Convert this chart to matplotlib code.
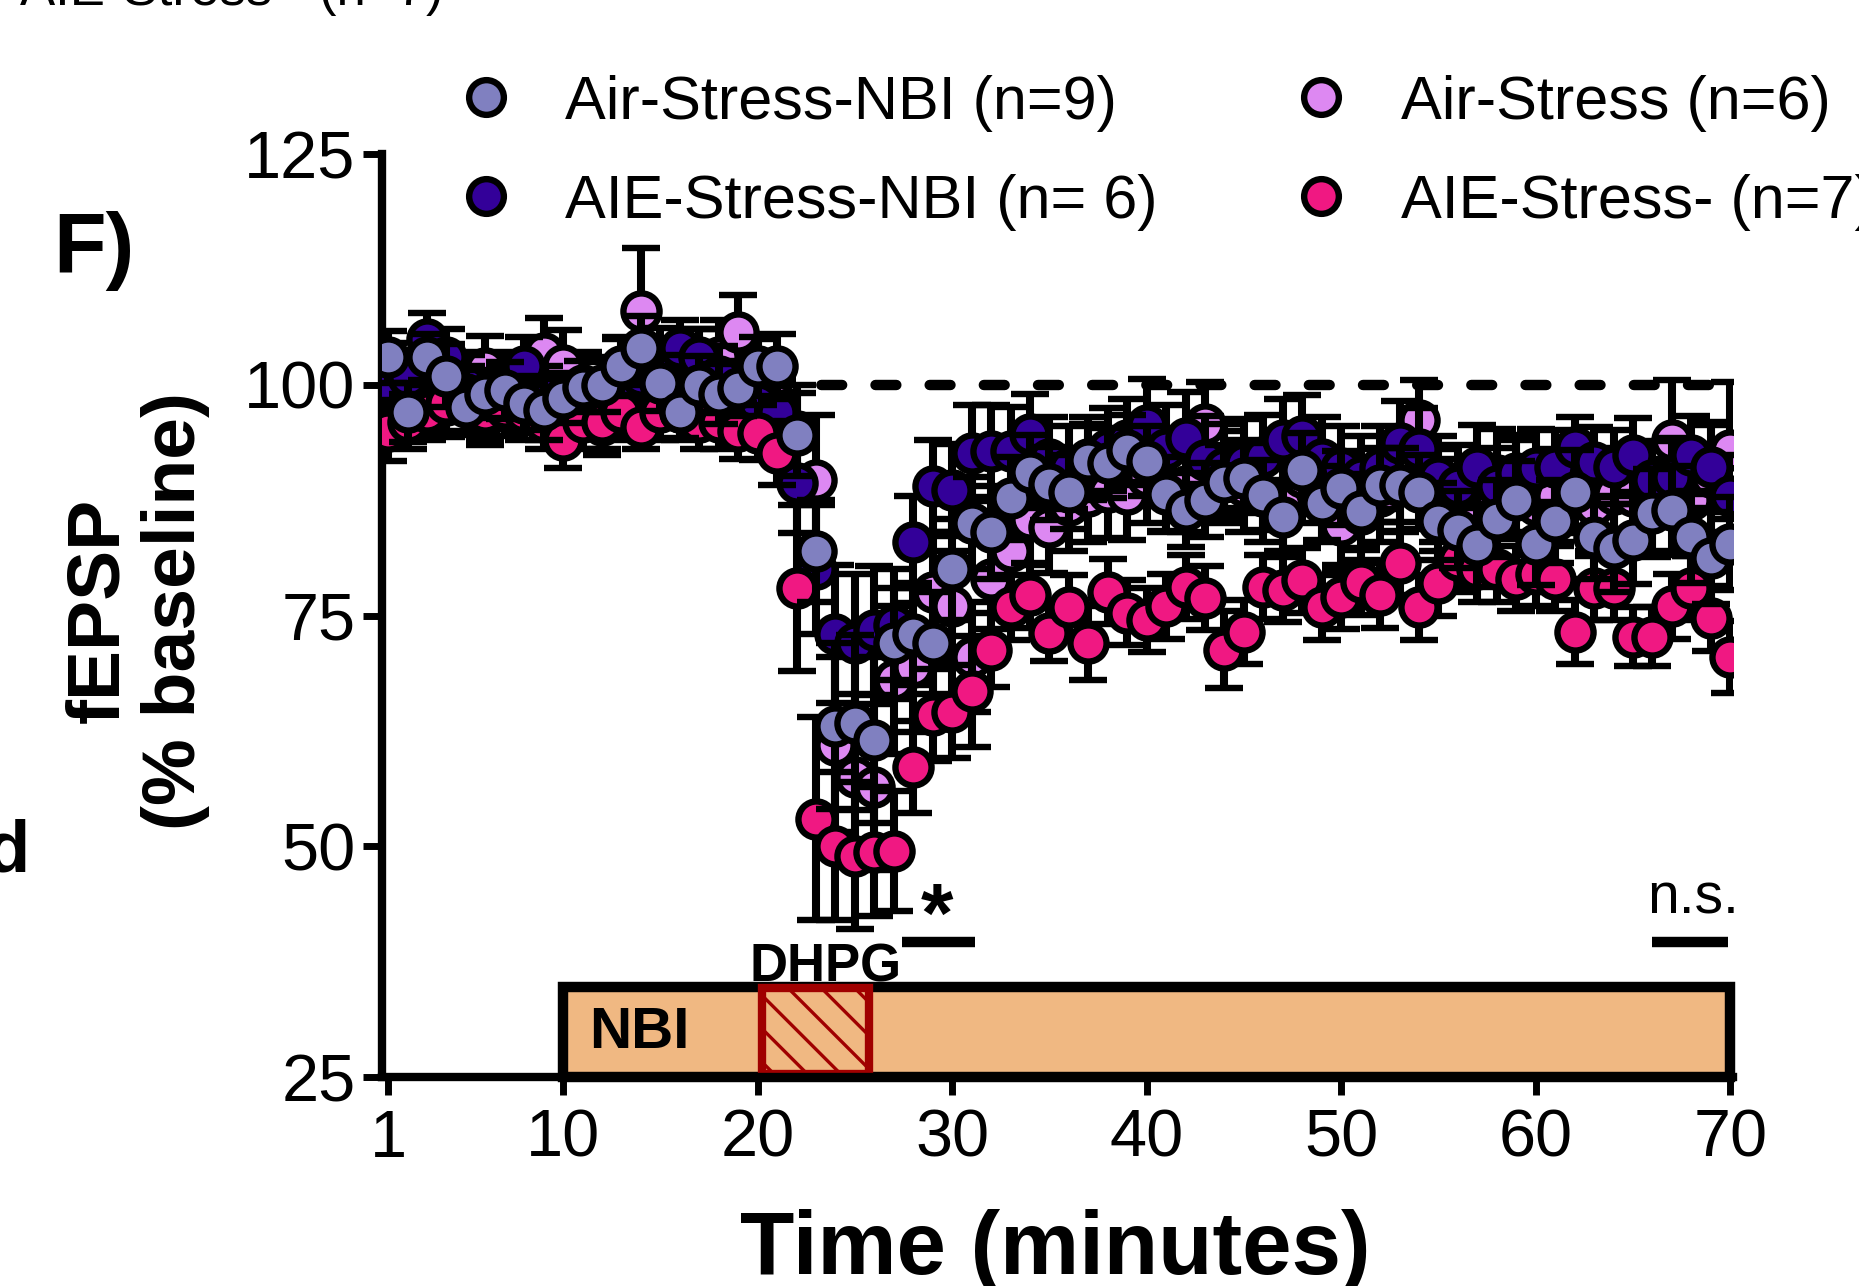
import numpy as np
import matplotlib
matplotlib.use('Agg')
import matplotlib.pyplot as plt
from matplotlib.patches import Rectangle
from matplotlib.lines import Line2D

plt.rcParams['font.family'] = ['Liberation Sans', 'DejaVu Sans']
plt.rcParams['hatch.linewidth'] = 2.4

# time points (one sweep per minute)
minutes = np.arange(1, 71)

# Air-Stress-NBI (n=9)
air_nbi = [103, 97, 103, 101, 97.6, 99, 99.4, 98, 97.3, 98.6,
           99.8, 100, 102, 104, 100.2, 97, 100, 99, 99.6, 102,
           102, 94.6, 82, 63, 63.4, 61.5, 72, 73, 72, 80,
           85, 84, 87.7, 90.6, 89.3, 88.4, 91.8, 91.5, 92.9, 91.7,
           88.2, 86.4, 87.5, 89.5, 89.9, 88.1, 85.7, 90.8, 87.2, 88.8,
           86.3, 89.1, 89.1, 88.4, 85.2, 84.3, 82.6, 85.5, 87.5, 82.8,
           85.2, 88.4, 83.5, 82.3, 83.2, 86.1, 86.4, 83.5, 81.2, 82.8]
air_nbi_sem = [2.8, 3.2, 2.5, 3.4, 3.0, 2.6, 3.1, 2.9, 3.3, 2.7,
               2.8, 3.0, 3.2, 3.5, 3.0, 2.8, 3.1, 3.3, 3.0, 3.2,
               3.5, 4.5, 5.5, 9.0, 9.5, 9.0, 6.0, 5.5, 5.5, 5.5,
               5.0, 5.0, 4.5, 4.0, 4.0, 4.0, 4.0, 3.8, 3.8, 3.8,
               4.0, 4.0, 4.0, 4.0, 3.8, 3.8, 4.0, 4.0, 4.0, 4.0,
               4.0, 4.0, 4.0, 4.0, 4.2, 4.2, 4.5, 4.2, 4.2, 4.5,
               4.5, 4.5, 4.5, 4.8, 4.8, 4.8, 4.8, 5.0, 5.0, 5.0]

# AIE-Stress-NBI (n=6)
aie_nbi = [100, 100.8, 105, 103, 100, 96.5, 99, 102, 99, 97,
           98, 95.6, 99, 101, 103, 104, 103, 101, 99, 98,
           97, 89.4, 80, 73, 72, 73.4, 74, 83, 89, 88.6,
           92.6, 92.8, 92.8, 94.7, 92, 91, 92, 93, 94, 95.6,
           93, 94.2, 91.8, 91, 91.5, 92.2, 94, 94.4, 92, 91,
           90, 91, 93.7, 93, 90, 89, 91.1, 89, 90.4, 91,
           91.1, 93.3, 91.6, 91.1, 92.4, 89.7, 90, 92.4, 91.1, 87.9]
aie_nbi_sem = [3.5, 3.0, 2.8, 3.0, 3.2, 3.0, 3.0, 3.2, 3.0, 3.0,
               3.0, 3.2, 3.0, 3.0, 3.2, 3.0, 3.0, 3.2, 3.4, 3.5,
               3.5, 5.5, 7.0, 7.5, 7.5, 7.0, 6.0, 5.0, 5.0, 5.0,
               5.2, 5.0, 4.8, 4.3, 4.5, 4.5, 4.5, 4.5, 4.5, 5.0,
               4.8, 5.0, 4.8, 4.8, 4.8, 4.5, 4.5, 4.5, 4.5, 4.5,
               4.5, 4.5, 4.5, 4.5, 4.5, 4.5, 4.5, 4.2, 4.2, 4.2,
               4.0, 3.2, 3.8, 4.0, 4.0, 4.2, 4.2, 4.2, 4.5, 4.5]

# Air-Stress (n=6)
air = [101, 99, 100, 97.8, 100, 101.8, 100, 99, 103.4, 102.1,
       100, 99, 101, 108, 101, 100, 102, 103, 105.7, 101,
       98, 95, 89.7, 61, 57.5, 56.4, 68, 69.4, 77.5, 76,
       70.5, 79, 82, 85.5, 84.6, 87, 88, 88.4, 88.2, 90,
       89, 89, 95.8, 90, 89, 88, 87, 90, 88, 84.8,
       86, 88, 89, 96.2, 88, 87, 86, 90.2, 89, 87,
       88, 89, 87, 88.2, 88, 87, 94, 87.5, 90, 92.9]
air_sem = [3.5, 3.5, 3.5, 3.5, 3.5, 3.5, 3.5, 3.5, 3.8, 3.8,
           3.5, 3.5, 4.0, 6.8, 4.0, 3.8, 4.0, 4.0, 4.0, 4.0,
           4.0, 5.0, 7.0, 9.5, 9.0, 9.0, 8.0, 7.0, 6.5, 6.0,
           6.0, 5.5, 5.5, 5.0, 5.0, 5.0, 5.0, 5.0, 5.0, 5.0,
           5.0, 5.0, 4.5, 5.0, 5.0, 5.0, 5.0, 5.0, 5.0, 5.0,
           5.0, 5.0, 5.0, 4.3, 5.0, 5.0, 5.0, 5.0, 5.0, 5.0,
           5.0, 5.0, 5.0, 5.0, 5.0, 5.0, 6.5, 6.0, 6.0, 7.4]

# AIE-Stress- (n=7)
aie = [95, 96, 97, 98, 99, 97, 97.5, 97, 96, 94,
       96, 96, 97, 95.4, 97, 97, 96, 96, 95, 94.8,
       92.6, 78, 53, 50, 49, 49.4, 49.5, 58.6, 64.2, 64.6,
       66.8, 71.3, 75.9, 77.2, 73.1, 75.9, 72, 77.6, 75.3, 74.5,
       76, 78.1, 76.9, 71.3, 73.2, 78.1, 77.8, 78.8, 75.9, 77,
       78.6, 77.2, 80.7, 75.9, 78.5, 81, 80, 80, 79, 79.5,
       79, 73.2, 78, 78, 72.7, 72.7, 76, 78, 74.7, 70.5]
aie_sem = [3.3, 3.0, 3.0, 3.0, 3.0, 3.0, 3.0, 3.0, 3.0, 3.0,
           3.0, 3.0, 3.0, 2.4, 3.0, 3.0, 3.0, 3.0, 3.0, 3.0,
           3.5, 9.0, 11.0, 8.0, 8.0, 7.0, 6.5, 5.0, 5.0, 5.0,
           6.0, 4.0, 3.5, 3.5, 3.0, 3.5, 4.0, 3.5, 3.5, 3.5,
           3.5, 3.5, 3.5, 4.2, 3.5, 3.5, 3.5, 3.5, 3.5, 3.5,
           3.5, 3.5, 3.5, 3.5, 3.5, 3.5, 3.5, 3.5, 3.5, 3.5,
           3.5, 3.5, 3.5, 3.5, 3.2, 3.2, 3.5, 3.5, 3.5, 3.9]

labels = ['Air-Stress-NBI (n=9)', 'AIE-Stress-NBI (n= 6)',
          'Air-Stress (n=6)', 'AIE-Stress- (n=7)']
colors = ['#8080C0', '#330099', '#DD88F2', '#F01882']

fig = plt.figure(figsize=(18.59, 12.86), dpi=100, facecolor='white')
ax = fig.add_axes([0.2055, 0.1625, 0.7268, 0.7177])

# baseline reference
ax.plot([1, 70.5], [100, 100], color='black', lw=7.5, ls=(0, (2.0, 3.2)),
        dash_capstyle='round', zorder=1)

# stacking order: Air-Stress at the back, Air-Stress-NBI in front
series = [(air, air_sem, colors[2], 3),
          (aie_nbi, aie_nbi_sem, colors[1], 4),
          (aie, aie_sem, colors[3], 5),
          (air_nbi, air_nbi_sem, colors[0], 6)]
for vals, sem, col, z in series:
    ax.errorbar(minutes, vals, yerr=sem, fmt='o', ms=26, mfc=col, mec='black',
                mew=4.6, ecolor='black', elinewidth=5.8, capsize=13.5,
                capthick=7.5, zorder=z)

# NBI perfusion bar with DHPG application inside
ax.add_patch(Rectangle((10, 25), 60, 9.8, facecolor='#F0B882', edgecolor='black',
                       lw=7.5, clip_on=False, zorder=2))
ax.add_patch(Rectangle((20.2, 25.3), 5.5, 9.3, facecolor='#F0B882',
                       edgecolor='#A00000', hatch='\\', lw=6, clip_on=False,
                       zorder=2.5))
ax.text(13.9, 29.8, 'NBI', fontsize=42, fontweight='bold', ha='center',
        va='center', zorder=3)
ax.text(23.5, 35.4, 'DHPG', fontsize=38, fontweight='bold', ha='center',
        va='baseline', zorder=3)

# significance markers
ax.plot([27.4, 31.2], [39.6, 39.6], color='black', lw=7.5, solid_capstyle='butt')
ax.text(29.2, 39.6, '*', fontsize=60, fontweight='bold', ha='center', va='baseline')
ax.plot([66.0, 69.9], [39.6, 39.6], color='black', lw=7.5, solid_capstyle='butt')
ax.text(68.1, 42.7, 'n.s.', fontsize=41, ha='center', va='baseline')

ax.set_xlim(0.69, 70.15)
ax.set_ylim(25, 125)
ax.set_xticks([1, 10, 20, 30, 40, 50, 60, 70])
ax.set_yticks([25, 50, 75, 100, 125])
for side in ['top', 'right']:
    ax.spines[side].set_visible(False)
for side in ['left', 'bottom']:
    ax.spines[side].set_linewidth(6)
ax.tick_params(axis='both', labelsize=48, width=5, direction='out')
ax.tick_params(axis='y', length=14, pad=5)
ax.tick_params(axis='x', length=13, pad=10)

fig.text(0.0737, 0.525, 'fEPSP\n(% baseline)', rotation=90, fontsize=54,
         fontweight='bold', ha='center', va='center', multialignment='center',
         linespacing=1.15)
fig.text(0.5675, 0.009, 'Time (minutes)', fontsize=64, fontweight='bold',
         ha='center', va='baseline')
fig.text(0.0285, 0.7877, 'F)', fontsize=62, fontweight='bold', va='baseline')

# pieces of the neighbouring panels
fig.text(0.011, 0.996, 'AIE-Stress-  (n=7)', fontsize=38, va='baseline')
fig.text(-0.0075, 0.3227, 'd', fontsize=52, fontweight='bold', va='baseline')

handles = [Line2D([], [], marker='o', ls='none', ms=25, mfc=c, mec='black', mew=4.6)
           for c in [colors[0], colors[1], colors[2], colors[3]]]
fig.legend(handles, labels, ncol=2, loc='upper left',
           bbox_to_anchor=(0.245, 0.942), frameon=False, fontsize=44,
           handlelength=1.0, handletextpad=0.8, columnspacing=2.17,
           labelspacing=0.69, borderpad=0, borderaxespad=0)

fig.savefig('out.png', dpi=100, facecolor='white')
